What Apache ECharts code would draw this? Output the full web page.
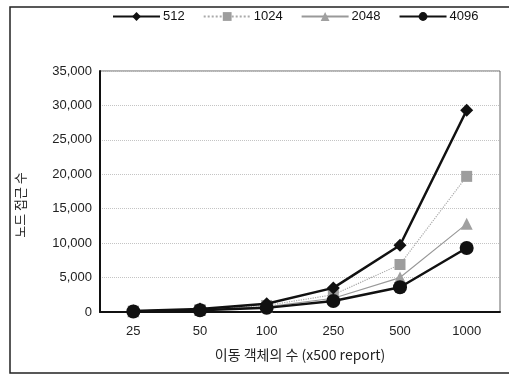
<!DOCTYPE html>
<html><head><meta charset="utf-8">
<script src="https://cdn.jsdelivr.net/npm/echarts@6/dist/echarts.min.js"></script>
<style>html,body{margin:0;padding:0;background:#fff}#c{width:509px;height:377px}</style>
</head><body><div id="c"></div>
<script>
const categories = ['25', '50', '100', '250', '500', '1000'];
const s512  = [150, 450, 1200, 3500, 9700, 29300];
const s1024 = [120, 350, 950, 2500, 6900, 19700];
const s2048 = [100, 300, 750, 2000, 5000, 12800];
const s4096 = [80, 250, 600, 1600, 3600, 9300];
const seriesNames = ['512', '1024', '2048', '4096'];
const yTicks = [0, 5000, 10000, 15000, 20000, 25000, 30000, 35000];
const xAxisTitle = '이동 객체의 수 (x500 report)';
const yAxisTitle = '노드 접근 수';

const font = '"Liberation Sans", Arial, sans-serif';
const kfont = '"Noto Sans CJK KR", ' + font;
const chart = echarts.init(document.getElementById('c'), null, {renderer: 'canvas'});
const fmt = v => String(v).replace(/\B(?=(\d{3})+(?!\d))/g, ',');
chart.setOption({
  animation: false,
  backgroundColor: '#fff',
  graphic: [
    {type: 'rect', shape: {x: 10, y: 7, width: 520, height: 366}, style: {fill: 'none', stroke: '#222', lineWidth: 1.5}, silent: true},
    {type: 'text', x: 20, y: 205, rotation: Math.PI / 2,
     style: {text: yAxisTitle, font: '13px ' + kfont, fill: '#222', textAlign: 'center', textVerticalAlign: 'middle'}}
  ],
  legend: {
    left: 112, top: 10, padding: 0, itemWidth: 47, itemHeight: 11, itemGap: 18,
    textStyle: {fontFamily: font, fontSize: 13, color: '#111', padding: [0,0,0,-2]},
    data: seriesNames
  },
  grid: {left: 100, right: 9, top: 71, bottom: 65, show: true, borderColor: '#666', borderWidth: 1},
  xAxis: {
    type: 'category', data: categories, boundaryGap: true,
    name: xAxisTitle, nameLocation: 'middle', nameGap: 36,
    nameTextStyle: {fontFamily: kfont, fontSize: 14, color: '#222'},
    axisLine: {lineStyle: {color: '#111', width: 2}},
    axisTick: {show: false},
    axisLabel: {fontFamily: font, fontSize: 13, color: '#222', margin: 13}
  },
  yAxis: {
    type: 'value', min: yTicks[0], max: yTicks[yTicks.length-1], interval: 5000,
    axisLine: {show: true, lineStyle: {color: '#111', width: 2}},
    axisTick: {show: false},
    axisLabel: {fontFamily: font, fontSize: 13, color: '#222', margin: 8, formatter: fmt},
    splitLine: {lineStyle: {color: '#c4c4c4', type: 'dotted', width: 1}}
  },
  series: [
    {name: '512', type: 'line', data: s512, symbol: 'diamond', symbolSize: 13,
     lineStyle: {color: '#111', width: 2.5}, itemStyle: {color: '#111'}, z: 5},
    {name: '1024', type: 'line', data: s1024, symbol: 'rect', symbolSize: 11,
     lineStyle: {color: '#aaa', width: 1.2, type: 'dotted'}, itemStyle: {color: '#9d9d9d'}, z: 3},
    {name: '2048', type: 'line', data: s2048, symbol: 'triangle', symbolSize: 12,
     lineStyle: {color: '#999', width: 1.2}, itemStyle: {color: '#a0a0a0'}, z: 3},
    {name: '4096', type: 'line', data: s4096, symbol: 'circle', symbolSize: 14,
     lineStyle: {color: '#111', width: 2.5}, itemStyle: {color: '#111'}, z: 6}
  ]
});
</script></body></html>
